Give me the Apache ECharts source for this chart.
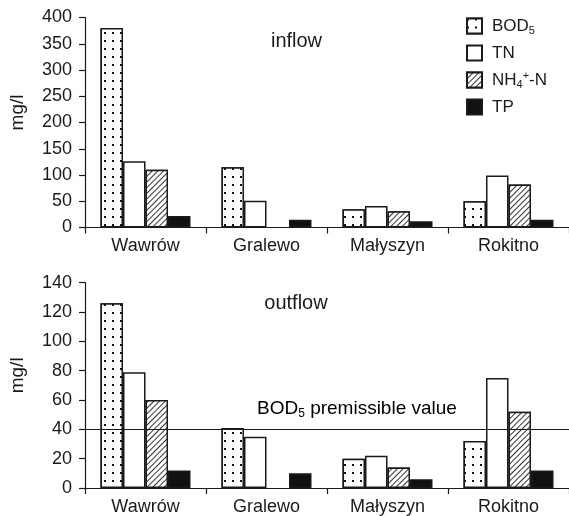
<!DOCTYPE html>
<html>
<head>
<meta charset="utf-8">
<script src="https://cdn.jsdelivr.net/npm/echarts@6/dist/echarts.min.js"></script>
<style>html,body{margin:0;padding:0;background:#fff;}#c{width:569px;height:516px;}</style>
</head>
<body>
<div id="c"></div>
<script>
var categories = ['Wawrów', 'Gralewo', 'Małyszyn', 'Rokitno'];
var seriesNames = ['BOD5', 'TN', 'NH4+-N', 'TP'];
var inflowBOD5 = [380, 115, 35, 50];
var inflowTN = [126, 51, 41, 99];
var inflowNH4 = [110, null, 31, 82];
var inflowTP = [22, 15, 12, 15];
var outflowBOD5 = [126, 41, 20, 32];
var outflowTN = [79, 35, 22, 75];
var outflowNH4 = [60, null, 14, 52];
var outflowTP = [12, 10, 6, 12];
var bodLimit = 40;
var inflowTicks = {min: 0, max: 400, interval: 50};
var outflowTicks = {min: 0, max: 140, interval: 20};

var FONT = '"Liberation Sans", Arial, sans-serif';
var INK = '#1a1a1a';

var styles = [
  {color: '#fff', borderColor: INK, borderWidth: 1.5,
   decal: {symbol: 'rect', symbolSize: 1, dashArrayX: [[2, 6]], dashArrayY: [2, 6], color: '#111', backgroundColor: '#fff'}},
  {color: '#fff', borderColor: INK, borderWidth: 1.5},
  {color: '#fff', borderColor: INK, borderWidth: 1.5,
   decal: {symbol: 'rect', symbolSize: 1, dashArrayX: [[1, 0]], dashArrayY: [1, 3], rotation: -Math.PI / 4, color: '#333', backgroundColor: '#fff'}},
  {color: '#111', borderColor: INK, borderWidth: 1.5}
];

var inflowData = [inflowBOD5, inflowTN, inflowNH4, inflowTP];
var outflowData = [outflowBOD5, outflowTN, outflowNH4, outflowTP];

function mkSeries(dataArr, idx) {
  return dataArr.map(function (d, i) {
    return {
      name: seriesNames[i], type: 'bar', xAxisIndex: idx, yAxisIndex: idx,
      data: d, barWidth: 22.5, barGap: '0%',
      itemStyle: styles[i], emphasis: {disabled: true}, animation: false
    };
  });
}

function yAxisCfg(idx, t) {
  return {
    gridIndex: idx, type: 'value', min: t.min, max: t.max, interval: t.interval,
    name: 'mg/l', nameLocation: 'middle', nameGap: 58, nameRotate: 90,
    nameTextStyle: {fontFamily: FONT, fontSize: 19, color: INK, padding: [0, 0, 0, 20]},
    axisLine: {show: true, lineStyle: {color: INK, width: 1.2}},
    axisTick: {show: true, length: 6, lineStyle: {color: INK, width: 1.2}},
    axisLabel: {fontFamily: FONT, fontSize: 18, color: INK, margin: 13},
    splitLine: {show: false}
  };
}
function xAxisCfg(idx) {
  return {
    gridIndex: idx, type: 'category', data: categories,
    axisLine: {show: true, lineStyle: {color: INK, width: 1.2}},
    axisTick: {show: true, length: 6, lineStyle: {color: INK, width: 1.2}},
    axisLabel: {fontFamily: FONT, fontSize: 18, color: INK, margin: 10}
  };
}

var series = mkSeries(inflowData, 0).concat(mkSeries(outflowData, 1));
series[4].markLine = {
  silent: true, symbol: 'none', animation: false,
  label: {show: false},
  lineStyle: {color: INK, type: 'solid', width: 1.2},
  data: [{yAxis: bodLimit}]
};

var richBase = {
  b: {fontFamily: FONT, fontSize: 17, color: INK, lineHeight: 20},
  s: {fontFamily: FONT, fontSize: 11, color: INK, verticalAlign: 'bottom', lineHeight: 14},
  p: {fontFamily: FONT, fontSize: 11, color: INK, verticalAlign: 'top', lineHeight: 14}
};
var richAnn = {
  b: {fontFamily: FONT, fontSize: 19, color: INK, lineHeight: 22},
  s: {fontFamily: FONT, fontSize: 12, color: INK, verticalAlign: 'bottom', lineHeight: 15}
};

var chart = echarts.init(document.getElementById('c'), null, {renderer: 'canvas'});
chart.setOption({
  animation: false,
  backgroundColor: '#fff',
  grid: [
    {left: 83, top: 17.5, width: 488, height: 210},
    {left: 81, top: 282.7, width: 490, height: 208}
  ],
  xAxis: [xAxisCfg(0), xAxisCfg(1)],
  yAxis: [yAxisCfg(0, inflowTicks), yAxisCfg(1, outflowTicks)],
  legend: {
    data: seriesNames, orient: 'vertical', left: 461, top: 12.5,
    icon: 'rect', itemWidth: 15, itemHeight: 15, itemGap: 8.5,
    selectedMode: false,
    formatter: function (n) {
      if (n === 'BOD5') return '{b|BOD}{s|5}';
      if (n === 'NH4+-N') return '{b|NH}{s|4}{p|+}{b|-N}';
      return '{b|' + n + '}';
    },
    textStyle: {fontFamily: FONT, fontSize: 17, color: INK, rich: richBase, padding: [0, 0, 0, 5]}
  },
  graphic: [
    {type: 'text', x: 296.5, y: 41, style: {text: 'inflow', fontFamily: FONT, fontSize: 20, fill: INK, align: 'center', verticalAlign: 'middle'}},
    {type: 'text', x: 296, y: 303, style: {text: 'outflow', fontFamily: FONT, fontSize: 20, fill: INK, align: 'center', verticalAlign: 'middle'}},
    {type: 'text', left: 257, top: 399, style: {text: '{b|BOD}{s|5}{b| premissible value}', rich: richAnn}}
  ],
  series: series
});
</script>
</body>
</html>
